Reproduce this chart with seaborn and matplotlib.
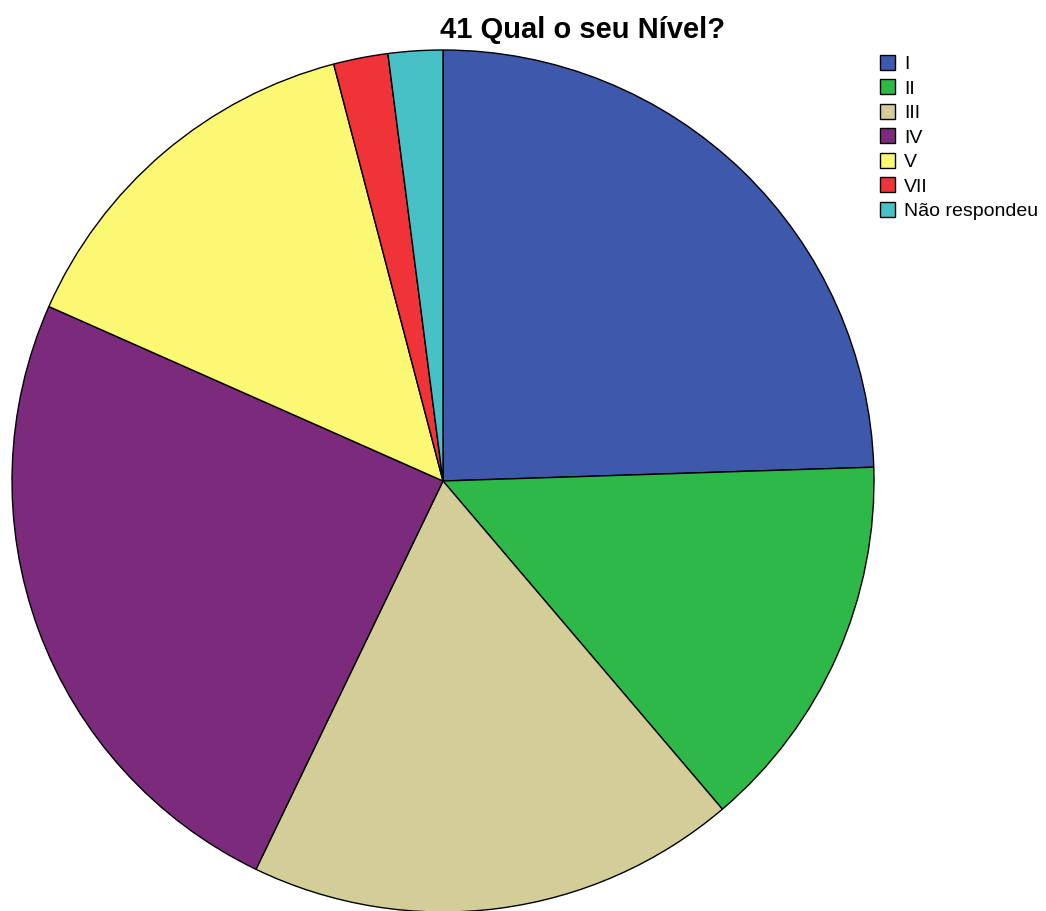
import matplotlib
matplotlib.use("Agg")
import matplotlib.pyplot as plt
import seaborn as sns

# Dados (contagens, n = 49)
categorias = ["I", "II", "III", "IV", "V", "VII", "Não respondeu"]
contagens = [12, 7, 9, 12, 7, 1, 1]
cores = ["#3E58AC", "#2EB848", "#D3CE97", "#7B2A7C", "#FBF873", "#EF3338", "#48C1C6"]
titulo = "41 Qual o seu Nível?"

sns.set_theme(style="white")
plt.rcParams["font.family"] = ["Liberation Sans", "DejaVu Sans"]

paleta = sns.color_palette(cores)

fig = plt.figure(figsize=(10.46, 9.11), dpi=100)
W, H = 1046, 911
cx, cy, r = 443, 481, 431
ax = fig.add_axes([(cx - r) / W, (H - cy - r) / H, 2 * r / W, 2 * r / H])

wedges, _ = ax.pie(
    contagens,
    colors=paleta,
    startangle=90,
    counterclock=False,
    radius=1.0,
    wedgeprops={"edgecolor": "black", "linewidth": 1.0},
)
ax.set_xlim(-1, 1)
ax.set_ylim(-1, 1)
ax.set_aspect("equal")
ax.axis("off")

fig.text(582 / W, 1 - 30 / H, titulo, ha="center", va="center",
         fontsize=21, fontweight="bold", color="black")

leg = fig.legend(
    wedges, categorias,
    loc="upper left",
    bbox_to_anchor=(880 / W, 1 - 55 / H),
    frameon=False,
    fontsize=14,
    handlelength=0.78,
    handleheight=0.78,
    handletextpad=0.45,
    labelspacing=0.33,
    borderpad=0.0,
    borderaxespad=0.0,
)
for t in leg.get_texts():
    t.set_color("black")

fig.savefig("out.png", dpi=100)
